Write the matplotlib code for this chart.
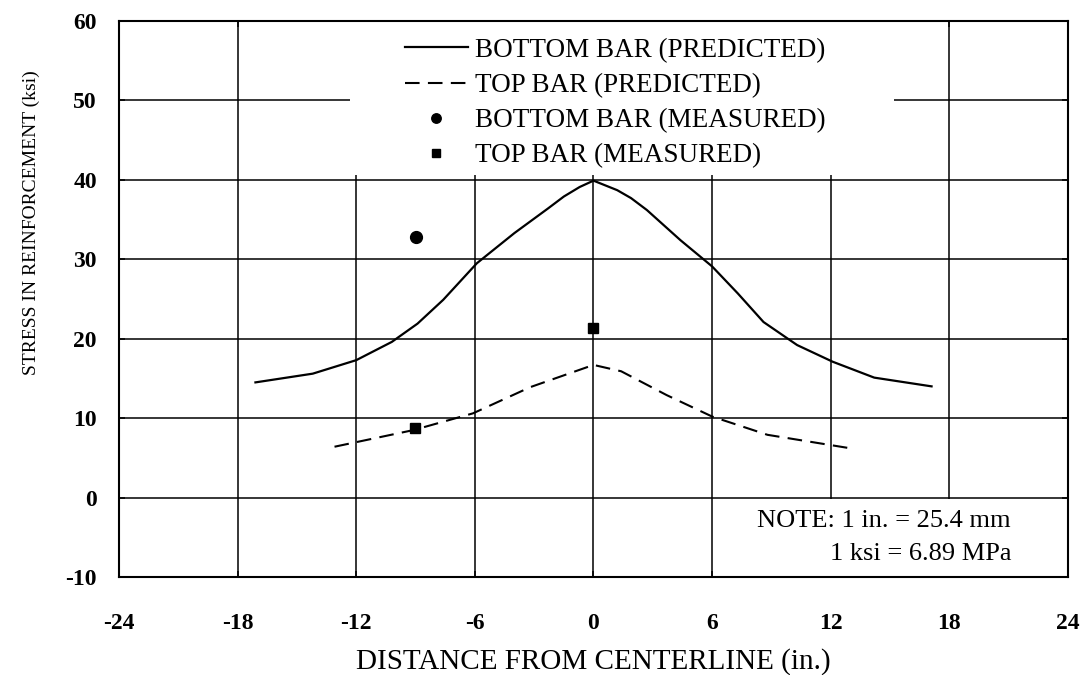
import matplotlib
matplotlib.use("Agg")
import matplotlib.pyplot as plt
from matplotlib.patches import Rectangle

# predicted stress along the bar, bottom and top reinforcement
x_bottom = [-17.1, -14.2, -12.0, -10.2, -8.9, -7.6, -5.9, -4.0, -2.3, -1.5, -0.7, 0.0,
            1.2, 1.9, 2.7, 4.4, 6.0, 7.3, 8.6, 10.3, 12.1, 14.2, 17.1]
y_bottom = [14.5, 15.6, 17.3, 19.6, 21.9, 24.9, 29.5, 33.3, 36.4, 37.9, 39.1, 39.9,
            38.7, 37.7, 36.2, 32.4, 29.1, 25.7, 22.1, 19.2, 17.1, 15.1, 14.0]

x_top = [-13.1, -9.1, -6.1, -3.2, 0.0, 1.4, 3.7, 6.0, 8.8, 13.0]
y_top = [6.4, 8.5, 10.6, 13.9, 16.7, 15.9, 12.9, 10.2, 7.9, 6.2]

# gauge readings
x_bot_meas = [-9.0]
y_bot_meas = [32.8]
x_top_meas = [0.0, -9.05]
y_top_meas = [21.4, 8.7]

x_ticks = [-24, -18, -12, -6, 0, 6, 12, 18, 24]
y_ticks = [-10, 0, 10, 20, 30, 40, 50, 60]

plt.rcParams['font.family'] = ['Liberation Serif', 'DejaVu Serif']
plt.rcParams['axes.unicode_minus'] = False

fig = plt.figure(figsize=(10.86, 6.75), dpi=100)
ax = fig.add_axes([0.1096, 0.1452, 0.8738, 0.8237])

ax.set_xlim(-24, 24)
ax.set_ylim(-10, 60)
ax.set_xticks(x_ticks)
ax.set_yticks(y_ticks)
ax.set_axisbelow(True)
ax.grid(True, color='black', linewidth=1.1)

# blank areas behind the legend and the note
ax.add_patch(Rectangle((-12.3, 40.6), 27.5, 19.3, facecolor='white',
                       edgecolor='none', zorder=1))
ax.add_patch(Rectangle((6.15, -10), 17.85, 9.8, facecolor='white',
                       edgecolor='none', zorder=1))

ax.plot(x_bottom, y_bottom, color='black', linewidth=1.6, zorder=3,
        label='BOTTOM BAR (PREDICTED)')
ax.plot(x_top, y_top, color='black', linewidth=1.5, dashes=(7, 4), zorder=3,
        label='TOP BAR (PREDICTED)')
ax.plot(x_bot_meas, y_bot_meas, 'o', color='black', markersize=8.5,
        linestyle='none', zorder=4, label='BOTTOM BAR (MEASURED)')
ax.plot(x_top_meas, y_top_meas, 's', color='black', markersize=7,
        linestyle='none', zorder=4, label='TOP BAR (MEASURED)')

leg = ax.legend(loc='upper left', bbox_to_anchor=(0.301, 0.97), frameon=False,
                fontsize=19.5, handlelength=2.35, handletextpad=0.26,
                labelspacing=0.38, borderpad=0, borderaxespad=0,
                markerscale=0.8)

ax.text(0.94, 0.1, 'NOTE: 1 in. = 25.4 mm', transform=ax.transAxes,
        fontsize=19, ha='right', va='center')
ax.text(0.94, 0.041, '1 ksi = 6.89 MPa', transform=ax.transAxes,
        fontsize=19, ha='right', va='center')

for s in ax.spines.values():
    s.set_linewidth(1.5)
ax.tick_params(direction='in', length=4, width=1.1, top=True, right=True)
ax.tick_params(axis='x', pad=26)
ax.tick_params(axis='y', pad=16)
for lab in ax.get_xticklabels() + ax.get_yticklabels():
    lab.set_fontsize(17)
    lab.set_fontweight('bold')

ax.set_xlabel('DISTANCE FROM CENTERLINE (in.)', fontsize=21, labelpad=10)
ax.set_ylabel('STRESS IN REINFORCEMENT (ksi)', fontsize=14)
ax.yaxis.set_label_coords(-0.083, 0.638)

fig.savefig('out.png', dpi=100)
